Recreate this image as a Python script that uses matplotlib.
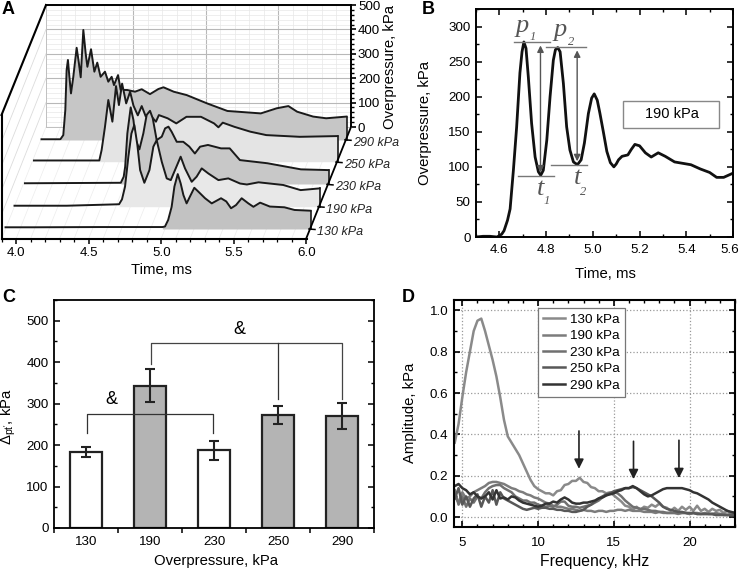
import numpy as np
import matplotlib
matplotlib.use("Agg")
import matplotlib.pyplot as plt
from matplotlib.patches import Rectangle
from matplotlib.transforms import ScaledTranslation

plt.rcParams['font.family'] = ['Liberation Sans', 'DejaVu Sans']
plt.rcParams['mathtext.fontset'] = 'custom'
plt.rcParams['mathtext.rm'] = 'Liberation Sans'
plt.rcParams['mathtext.default'] = 'regular'
plt.rcParams['font.size'] = 9.6

W, H = 741, 570

# panel A: waterfall traces
a_labels = ['130 kPa', '190 kPa', '230 kPa', '250 kPa', '290 kPa']
a_t130 = [3.90, 4.09, 4.55, 4.98, 4.998, 5.02, 5.044, 5.063, 5.086, 5.106, 5.125, 5.147, 5.17, 5.20, 5.228, 5.274,
          5.32, 5.384, 5.42, 5.453, 5.487, 5.526, 5.572, 5.607, 5.653, 5.72, 5.82, 5.89, 6.00]
a_p130 = [7, 7, 8, 8, 10, 37, 91, 174, 225, 187, 139, 105, 133, 169, 153, 126,
          105, 126, 113, 85, 98, 126, 105, 91, 108, 92, 89, 78, 75]
a_t190 = [3.90, 4.26, 4.62, 4.64, 4.661, 4.684, 4.705, 4.725, 4.746, 4.765, 4.794, 4.829, 4.856, 4.879, 4.914, 4.948,
          4.976, 5.0, 5.044, 5.074, 5.12, 5.154, 5.189, 5.235, 5.304, 5.372, 5.453, 5.50, 5.58, 5.75, 5.87, 6.00]
a_p190 = [4, 4, 10, 30, 82, 205, 300, 335, 253, 150, 98, 150, 246, 273, 184, 116,
          109, 143, 205, 157, 102, 123, 157, 136, 109, 116, 95, 91, 100, 89, 68, 75]
a_t230 = [3.91, 4.57, 4.59, 4.60, 4.615, 4.638, 4.657, 4.673, 4.698, 4.725, 4.748, 4.771, 4.79, 4.817, 4.852, 4.875,
          4.898, 4.92, 4.955, 5.0, 5.042, 5.08, 5.116, 5.17, 5.26, 5.32, 5.39, 5.58, 5.81, 6.00]
a_p230 = [3, 5, 30, 71, 207, 314, 262, 180, 142, 207, 283, 300, 269, 180, 194, 228,
          235, 214, 173, 173, 153, 125, 153, 160, 146, 146, 98, 85, 60, 57]
a_t250 = [3.91, 4.36, 4.376, 4.399, 4.422, 4.45, 4.475, 4.495, 4.517, 4.545, 4.572, 4.595, 4.625, 4.652, 4.68,
          4.72, 4.75, 4.77, 4.83, 4.89, 4.96, 5.06, 5.15, 5.18, 5.21, 5.29, 5.40, 5.51, 5.74, 6.00]
a_p250 = [5, 5, 48, 143, 253, 164, 310, 232, 320, 239, 287, 230, 190, 228, 185,
          184, 164, 191, 178, 157, 184, 184, 157, 141, 160, 143, 123, 109, 102, 105]
a_t290 = [3.90, 4.03, 4.05, 4.064, 4.073, 4.082, 4.092, 4.103, 4.119, 4.142, 4.156, 4.170, 4.188, 4.204, 4.216,
          4.241, 4.264, 4.284, 4.307, 4.337, 4.360, 4.383, 4.399, 4.427, 4.445, 4.49, 4.544, 4.59, 4.647, 4.705,
          4.74, 4.81, 4.90, 5.04, 5.18, 5.41, 5.52, 5.60, 5.66, 5.77, 5.86, 6.00]
a_p290 = [3, 3, 20, 123, 287, 328, 259, 191, 259, 378, 321, 257, 451, 355, 300,
          372, 280, 317, 259, 280, 239, 259, 225, 266, 205, 205, 198, 208, 188, 209,
          216, 198, 184, 150, 119, 109, 130, 139, 116, 96, 89, 96]
a_fill_from = [4.98, 4.62, 4.57, 4.36, 4.03]
a_fill_col = ['#c2c2c2', '#e8e8e8', '#c8c8c8', '#e4e4e4', '#c6c6c6']

# panel B
b_t = [4.50, 4.53, 4.56, 4.59, 4.61, 4.62, 4.635, 4.646, 4.66, 4.674, 4.688, 4.697, 4.705, 4.714, 4.724, 4.738,
       4.753, 4.767, 4.777, 4.788, 4.803, 4.817, 4.831, 4.84, 4.85, 4.86, 4.874, 4.888, 4.902, 4.917, 4.934, 4.95,
       4.964, 4.981, 4.995, 5.006, 5.019, 5.03, 5.045, 5.06, 5.075, 5.09, 5.10, 5.11, 5.125, 5.15, 5.165, 5.18,
       5.20, 5.225, 5.25, 5.28, 5.31, 5.35, 5.42, 5.46, 5.50, 5.53, 5.56, 5.60]
b_p = [0, 1, 1, 0, 4, 9, 24, 40, 95, 157, 234, 264, 278, 269, 228, 162,
       114, 93, 88, 95, 138, 200, 252, 267, 270, 264, 219, 157, 124, 107, 103, 110,
       134, 176, 198, 204, 195, 177, 150, 122, 106, 100, 104, 110, 115, 117, 125, 132,
       130, 120, 114, 120, 115, 107, 103, 97, 92, 85, 85, 91]

# panel C
c_cats = ['130', '190', '230', '250', '290']
c_vals = [184, 343, 187, 273, 271]
c_errs = [12, 40, 22, 22, 31]
c_cols = ['white', '#b4b4b4', 'white', '#b4b4b4', '#b4b4b4']

# panel D, one row per 3.75 kHz
d_f = [4.5 + 0.25 * i for i in range(75)]
d_130 = [.36, .45, .58, .70, .80, .90, .95, .96, .90, .83, .76, .68, .58, .47, .39,
         .36, .33, .30, .26, .22, .18, .15, .135, .125, .115, .115, .105, .125, .13, .155,
         .16, .175, .175, .19, .17, .165, .145, .14, .125, .125, .115, .12, .105, .09, .075,
         .055, .05, .035, .05, .035, .05, .045, .06, .05, .065, .05, .045, .03, .045, .03,
         .05, .035, .05, .03, .055, .03, .04, .025, .04, .03, .035, .02, .03, .015, .025]
d_190 = [.10, .07, .12, .09, .10, .12, .13, .14, .15, .165, .17, .17, .165, .16, .15,
         .14, .135, .125, .12, .11, .105, .095, .09, .08, .07, .065, .055, .05, .05, .045,
         .04, .04, .035, .03, .035, .03, .03, .025, .03, .03, .025, .03, .03, .035, .035,
         .03, .035, .03, .03, .03, .025, .025, .025, .02, .025, .02, .02, .02, .02, .015,
         .02, .02, .015, .02, .02, .015, .02, .015, .015, .02, .015, .015, .01, .015, .01]
d_230 = [.13, .06, .10, .05, .09, .07, .10, .09, .12, .14, .15, .155, .155, .14, .13,
         .12, .10, .09, .08, .08, .07, .07, .06, .055, .05, .055, .05, .06, .075, .075,
         .055, .05, .05, .045, .05, .055, .06, .07, .08, .095, .105, .115, .12, .115, .10,
         .08, .065, .05, .045, .04, .04, .035, .03, .03, .025, .025, .02, .02, .02, .02,
         .02, .02, .015, .02, .015, .015, .015, .015, .015, .01, .015, .01, .01, .01, .01]
d_250 = [.09, .14, .06, .10, .05, .09, .11, .05, .10, .07, .13, .06, .12, .09, .08,
         .07, .06, .05, .04, .035, .04, .045, .04, .045, .045, .04, .04, .035, .035, .03,
         .03, .025, .025, .03, .035, .05, .06, .075, .09, .10, .11, .115, .125, .13, .135,
         .14, .14, .145, .14, .13, .12, .11, .10, .085, .07, .05, .04, .035, .03, .025,
         .025, .02, .02, .02, .015, .015, .015, .015, .015, .01, .01, .01, .01, .01, .01]
d_290 = [.15, .16, .14, .13, .11, .12, .10, .09, .10, .12, .085, .13, .09, .095, .085,
         .10, .095, .08, .07, .065, .06, .055, .05, .055, .065, .065, .075, .07, .085, .095,
         .085, .07, .065, .065, .07, .07, .075, .08, .09, .095, .105, .11, .115, .125, .13,
         .14, .14, .15, .14, .125, .11, .10, .105, .115, .125, .135, .14, .14, .14, .14,
         .14, .135, .13, .12, .115, .105, .095, .085, .07, .06, .05, .04, .03, .025, .02]
d_labels = ['130 kPa', '190 kPa', '230 kPa', '250 kPa', '290 kPa']
d_cols = ['#8a8a8a', '#7c7c7c', '#707070', '#585858', '#333333']
d_arrows = [(12.7, .43, .22), (16.3, .38, .17), (19.3, .385, .175)]


def px_axes(left, top, right, bottom, **kw):
    return fig.add_axes([left / W, 1 - bottom / H, (right - left) / W, (bottom - top) / H], **kw)


fig = plt.figure(figsize=(W / 100, H / 100), dpi=100)

# overlay in pixel coords for frame lines and labels
ov = px_axes(0, 0, W, H, zorder=1)
ov.set_xlim(0, W)
ov.set_ylim(H, 0)
ov.axis('off')
front = px_axes(0, 0, W, H, zorder=20)
front.set_xlim(0, W)
front.set_ylim(H, 0)
front.axis('off')
front.patch.set_alpha(0)

# ---- panel A ----
wall = px_axes(46, 5, 351, 127, zorder=2)
wall.patch.set_alpha(0)
wall.set_xlim(3.9, 6.0)
wall.set_ylim(0, 500)
wall.set_xticks([4.5, 5.0, 5.5])
wall.set_xticks(np.arange(4.0, 6.0, 0.1), minor=True)
wall.yaxis.tick_right()
wall.set_yticks(np.arange(0, 501, 100))
wall.set_yticks(np.arange(0, 501, 20), minor=True)
wall.grid(True, which='major', color='#b8b8b8', lw=0.8)
wall.grid(True, which='minor', color='#e8e8e8', lw=0.5)
wall.set_axisbelow(True)
wall.tick_params(axis='x', which='both', length=0, labelbottom=False)
wall.tick_params(axis='y', which='major', length=3.5, width=1.2, direction='out', pad=1.5)
wall.tick_params(axis='y', which='minor', length=2, width=1, direction='out')
for s in ['left', 'bottom']:
    wall.spines[s].set_color('#c0c0c0')
    wall.spines[s].set_linewidth(0.7)
wall.spines['top'].set_linewidth(1.4)
wall.spines['right'].set_linewidth(1.4)
wall.yaxis.set_label_position('right')
wall.set_ylabel('Overpressure, kPa', fontsize=10.7)
wall.yaxis.set_label_coords(1.105, 0.49)

# left wall and floor
for k in range(1, 6):
    ov.plot([1.5, 46], [239 - 24.4 * k, 127 - 24.4 * k], color='#dcdcdc', lw=0.6)
for k in range(0, 22):
    ov.plot([1.5 + k * 14.5, 46 + k * 14.5], [239, 127], color='#ececec', lw=0.5)
ov.plot([46, 351], [127, 127], color='#c0c0c0', lw=0.7)

a_times = [a_t130, a_t190, a_t230, a_t250, a_t290]
a_press = [a_p130, a_p190, a_p230, a_p250, a_p290]
a_base = [229, 206.7, 184, 161.7, 140]
a_left = [5.5, 14.5, 23.5, 32.5, 41.5]
for i in range(4, -1, -1):
    ax = px_axes(a_left[i], a_base[i] - 122, a_left[i] + 305, a_base[i], zorder=3 + (4 - i))
    ax.set_xlim(3.9, 6.0)
    ax.set_ylim(0, 500)
    ax.axis('off')
    t = np.array(a_times[i])
    p = np.array(a_press[i])
    m = t >= a_fill_from[i]
    ax.fill_between(t[m], p[m], 0, color=a_fill_col[i], lw=0)
    ax.plot(t, p, color='#1a1a1a', lw=1.4, clip_on=False, solid_joinstyle='round')
    ax.plot([t[-1], t[-1]], [0, p[-1]], color='#1a1a1a', lw=1.2, clip_on=False)
    # series label
    tx = 310 + 9 * i
    ty = 229 - 22.3 * i
    front.plot([tx - 1, tx + 5], [ty, ty + 0.5], color='black', lw=1.1)
    front.text(tx + 7, ty + 3, a_labels[i], fontsize=9, style='italic', va='center', ha='left', color='#222222')

xax = px_axes(1.5, 200, 306.5, 239, zorder=10)
xax.patch.set_alpha(0)
xax.set_xlim(3.9, 6.0)
xax.set_yticks([])
xax.set_xticks([4.0, 4.5, 5.0, 5.5, 6.0])
xax.set_xticks(np.arange(3.9, 6.01, 0.1), minor=True)
xax.set_xticklabels(['4.0', '4.5', '5.0', '5.5', '6.0'])
xax.tick_params(axis='x', which='major', length=3.5, width=1.1, pad=2.3)
xax.tick_params(axis='x', which='minor', length=2, width=0.9)
for s in ['left', 'right', 'top']:
    xax.spines[s].set_visible(False)
xax.spines['bottom'].set_linewidth(1.5)
xax.set_xlabel('Time, ms', fontsize=10.7)
xax.xaxis.set_label_coords(0.526, -0.615)

front.plot([1.5, 1.5], [239, 115], color='black', lw=1.5)
front.plot([1.5, 46], [115, 5], color='black', lw=1.5)
front.plot([306, 351], [239, 127], color='black', lw=1.3)

# ---- panel B ----
axb = px_axes(476, 9, 733, 237, zorder=2)
axb.plot(b_t, b_p, color='#111111', lw=2)
axb.set_xlim(4.5, 5.6)
axb.set_ylim(0, 325)
axb.set_xticks(np.arange(4.6, 5.61, 0.2))
axb.set_xticks(np.arange(4.5, 5.61, 0.1), minor=True)
axb.set_yticks(np.arange(0, 301, 50))
axb.set_yticks(np.arange(0, 326, 25), minor=True)
axb.tick_params(which='major', direction='in', top=True, right=True, length=4, width=1.1)
axb.tick_params(which='minor', direction='in', top=True, right=True, length=2.5, width=1)
axb.tick_params(axis='x', which='major', pad=5)
axb.tick_params(axis='y', which='major', pad=4)
# last tick label sits right at the picture edge
lab56 = axb.get_xticklabels()[-1]
lab56.set_transform(lab56.get_transform() + ScaledTranslation(-3 / 100, 0, fig.dpi_scale_trans))
for s in axb.spines.values():
    s.set_linewidth(1.4)
axb.set_xlabel('Time, ms', fontsize=10.7)
axb.xaxis.set_label_coords(0.502, -0.132)
axb.set_ylabel('Overpressure, kPa', fontsize=10.7)
axb.yaxis.set_label_coords(-0.171, 0.5)
gr = '#777777'
axb.plot([4.663, 4.817], [278, 278], color=gr, lw=1)
axb.plot([4.80, 4.97], [271, 271], color=gr, lw=1)
axb.plot([4.68, 4.835], [87, 87], color=gr, lw=1)
axb.plot([4.82, 4.975], [103, 103], color=gr, lw=1)
axb.annotate('', xy=(4.776, 277), xytext=(4.776, 88), arrowprops=dict(arrowstyle='<|-|>', color='#555555', lw=1))
axb.annotate('', xy=(4.933, 270), xytext=(4.933, 104), arrowprops=dict(arrowstyle='<|-|>', color='#555555', lw=1))
for x, y, s, xs, ys, sub in [(4.671, 292, 'p', 4.731, 281, '1'), (4.83, 286, 'p', 4.894, 274, '2'),
                             (4.761, 60, 't', 4.787, 47, '1'), (4.92, 76, 't', 4.945, 60, '2')]:
    axb.text(x, y, s, family='Liberation Serif', style='italic', fontsize=19, color='#555555')
    axb.text(xs, ys, sub, family='Liberation Serif', style='italic', fontsize=9, color='#555555')
axb.add_patch(Rectangle((5.131, 156), 0.411, 38, fc='white', ec='#888888', lw=1))
axb.text(5.337, 175, '190 kPa', ha='center', va='center', fontsize=10.5)

# ---- panel C ----
axc = px_axes(54, 300, 374, 528, zorder=2)
xc = np.arange(len(c_cats))
axc.bar(xc, c_vals, width=0.5, color=c_cols, edgecolor='#222222', lw=1.6, zorder=2)
axc.errorbar(xc, c_vals, yerr=c_errs, fmt='none', ecolor='#222222', elinewidth=1.5, capsize=3.5, capthick=1.5, zorder=3)
axc.set_xlim(-0.5, 4.5)
axc.set_ylim(0, 550)
axc.set_xticks(np.arange(-0.5, 4.6, 1))
axc.set_xticklabels([])
axc.set_xticks(xc, minor=True)
axc.set_xticklabels(c_cats, minor=True)
axc.tick_params(axis='x', which='major', length=3.5, width=1.1, direction='out')
axc.tick_params(axis='x', which='minor', length=0, pad=5.7)
axc.set_yticks(np.arange(0, 501, 100))
axc.set_yticks(np.arange(0, 551, 50), minor=True)
axc.tick_params(axis='y', which='major', direction='in', right=True, length=4.5, width=1.1, pad=4)
axc.tick_params(axis='y', which='minor', direction='in', right=True, length=2.5, width=1)
for s in axc.spines.values():
    s.set_linewidth(1.3)
axc.set_xlabel('Overpressure, kPa', fontsize=10.7)
axc.xaxis.set_label_coords(0.506, -0.114)
axc.set_ylabel(r"$\Delta_{pt'}$, kPa", fontsize=10.7)
axc.yaxis.set_label_coords(-0.1125, 0.487)
axc.plot([0.02, 0.02, 1.99, 1.99], [230, 276, 276, 230], color='#333333', lw=0.9, zorder=4)
axc.plot([1.01, 1.01, 4.0, 4.0], [396, 446, 446, 310], color='#444444', lw=0.9, zorder=4)
axc.plot([3.0, 3.0], [446, 310], color='#333333', lw=0.9, zorder=4)
axc.text(0.4, 310, '&', ha='center', va='center', fontsize=13)
axc.text(2.4, 478, '&', ha='center', va='center', fontsize=13)

# ---- panel D ----
axd = px_axes(454, 300, 735, 527, zorder=2)
for y, lab, col in zip([d_130, d_190, d_230, d_250, d_290], d_labels, d_cols):
    axd.plot(d_f, y, color=col, lw=1.8, label=lab)
axd.set_xlim(4.45, 23)
axd.set_ylim(-0.048, 1.05)
axd.set_xticks([5, 10, 15, 20])
axd.set_xticks(np.arange(5, 23.5, 1), minor=True)
axd.set_yticks(np.arange(0, 1.01, 0.2))
axd.set_yticks(np.arange(0, 1.05, 0.1), minor=True)
axd.grid(True, which='major', color='#999999', ls=':', lw=0.9)
axd.set_axisbelow(True)
axd.tick_params(which='major', direction='in', top=True, right=True, length=4, width=1.2)
axd.tick_params(which='minor', direction='in', top=True, right=True, length=2.5, width=1)
axd.tick_params(axis='x', which='major', pad=7)
axd.tick_params(axis='y', which='major', pad=4)
for s in axd.spines.values():
    s.set_linewidth(1.5)
axd.set_xlabel('Frequency, kHz', fontsize=11.3)
axd.xaxis.set_label_coords(0.502, -0.119)
axd.set_ylabel('Amplitude, kPa', fontsize=10.7)
axd.yaxis.set_label_coords(-0.132, 0.502)
for xa, y0, y1 in d_arrows:
    axd.annotate('', xy=(xa, y1), xytext=(xa, y0),
                 arrowprops=dict(arrowstyle='-|>', color='#222222', lw=1.2, mutation_scale=14))
leg = axd.legend(loc='upper left', bbox_to_anchor=(0.299, 0.965), fontsize=9.7, frameon=True, fancybox=False,
                 edgecolor='#777777', framealpha=1, handlelength=1.6, handletextpad=0.4, labelspacing=0.3,
                 borderpad=0.4, borderaxespad=0)
leg.get_frame().set_linewidth(0.9)

# panel letters
for x, y, s in [(2, 10, 'A'), (422, 9, 'B'), (2, 298, 'C'), (402, 298, 'D')]:
    front.text(x, y, s, fontsize=13, fontweight='bold', va='center', ha='left')

fig.savefig('out.png', dpi=100)
